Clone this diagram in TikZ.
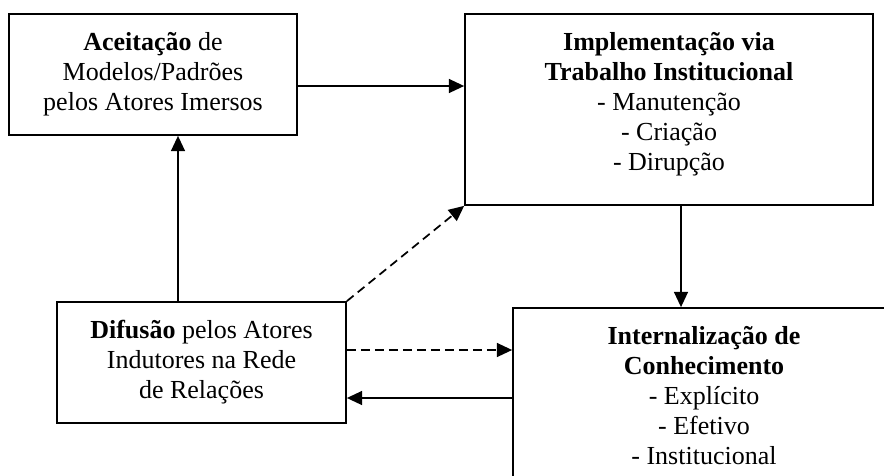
\documentclass[tikz,border=0pt]{standalone}
\usepackage{fontspec}
\setmainfont{Liberation Serif}
\usetikzlibrary{positioning, arrows.meta, calc}

\begin{document}
\begin{tikzpicture}[x=0.75pt, y=-0.75pt,
    caixa/.style={rectangle, draw=black, line width=1.3pt, inner sep=0pt, align=center,
                  font=\fontsize{19.5}{22.5}\selectfont},
    seta/.style={line width=1.3pt, -{Triangle[length=11.5pt, width=10.5pt]}},
    tracejada/.style={seta, dash pattern=on 6.5pt off 4pt}]
  \clip (0,0) rectangle (884,475);

  % Boxes
  \node[caixa, minimum width=216pt, minimum height=90.75pt] (aceit) at (153,74.5)
    {\textbf{Aceitação} de\\Modelos/Padrões\\pelos Atores Imersos};
  \node[caixa, minimum width=306pt, minimum height=143.25pt] (implem) at (669,109.5)
    {\textbf{Implementação via}\\\textbf{Trabalho Institucional}\\- Manutenção\\- Criação\\- Dirupção\\[-10.5pt]\mbox{}};
  \node[caixa, minimum width=216.75pt, minimum height=90.75pt] (difus) at (201.5,362.5)
    {\textbf{Difusão} pelos Atores\\Indutores na Rede\\de Relações};
  \node[caixa, minimum width=286.5pt, minimum height=132pt] (intern) at (704,396)
    {\textbf{Internalização de}\\\textbf{Conhecimento}\\- Explícito\\- Efetivo\\- Institucional};

  % Anchor points of the connectors
  \coordinate (ae) at ($(aceit.east)+(0,11.5)$);
  \coordinate (dn) at ($(difus.north)+(-23.5,0)$);
  \coordinate (is) at ($(implem.south)+(12,0)$);
  \coordinate (de1) at ($(difus.east)+(0,-12.5)$);
  \coordinate (de2) at ($(difus.east)+(0,35.5)$);

  % Arrows
  \draw[seta] (ae) -- (ae -| implem.west);
  \draw[seta] (dn) -- (dn |- aceit.south);
  \draw[seta] (is) -- (is |- intern.north);
  \draw[tracejada] (difus.north east) -- (implem.south west);
  \draw[tracejada] (de1) -- (de1 -| intern.west);
  \draw[seta] (de2 -| intern.west) -- (de2);
\end{tikzpicture}
\end{document}
